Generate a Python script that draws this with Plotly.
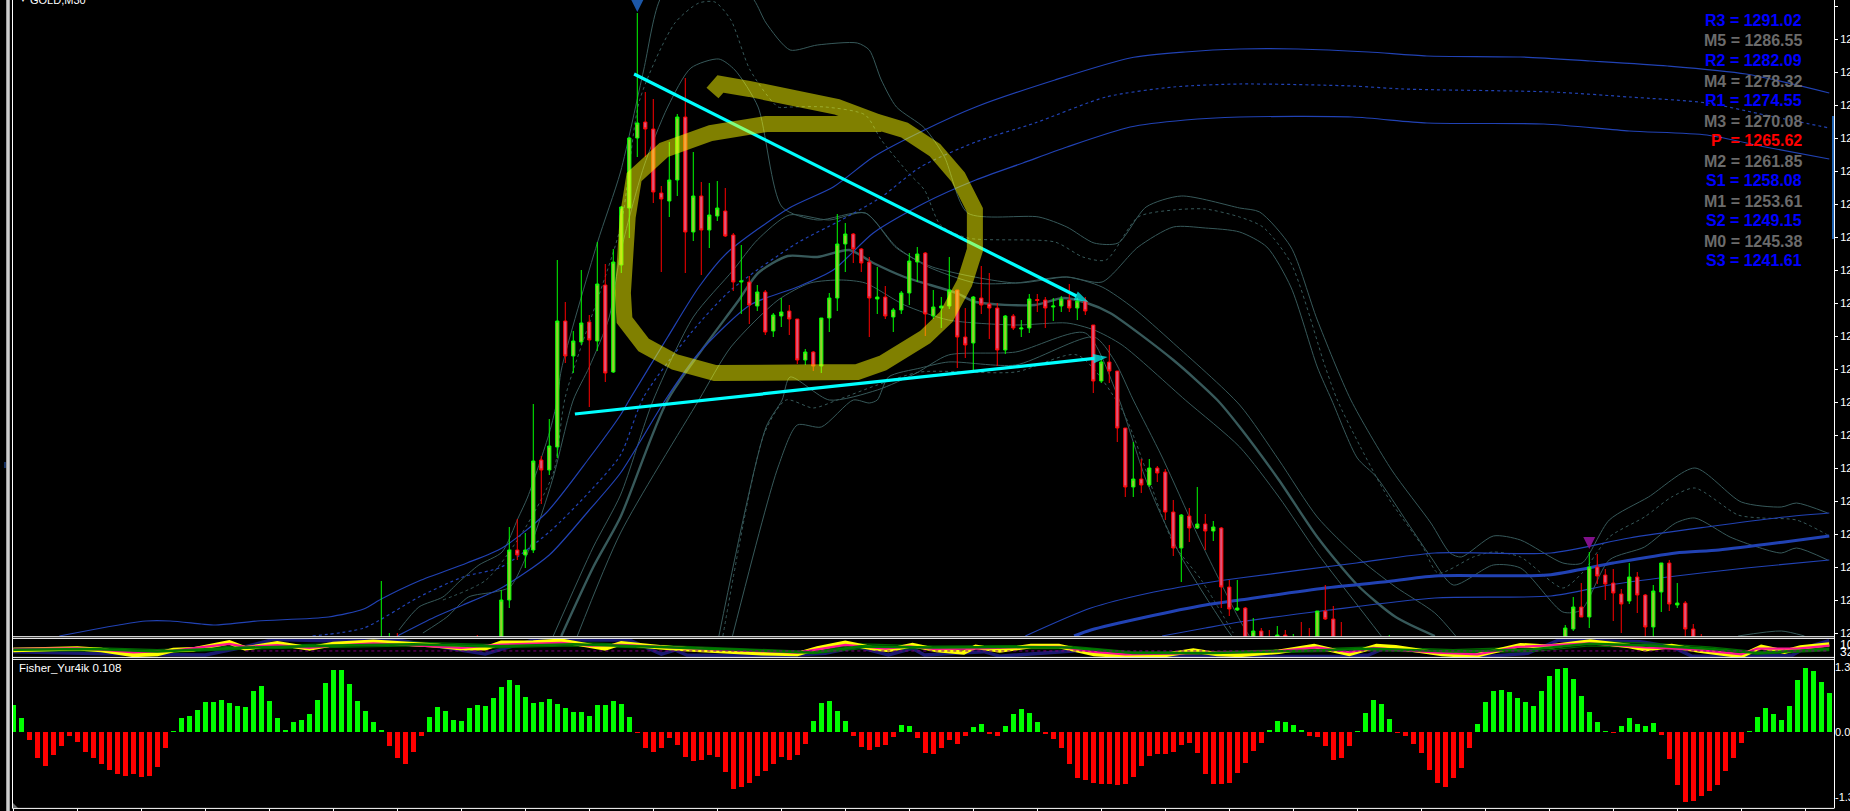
import plotly.graph_objects as go

# ---------- candles (bar number, open, high, low, close), main price panel ----------
bar = [46,47,48,58,61,62,63,64,65,66,67,68,69,70,71,72,73,74,75,76,77,78,79,80,81,82,83,84,85,86,87,88,89,90,91,92,93,94,95,96,97,98,99,100,
       101,102,103,104,105,106,107,108,109,110,111,112,113,114,115,116,117,118,119,120,121,122,123,124,125,126,127,128,129,130,131,132,133,134,135,
       136,137,138,139,140,141,142,143,144,145,146,147,148,149,150,151,152,153,154,155,156,157,158,159,160,161,162,163,164,165,166,172,
       194,195,196,197,198,199,200,201,202,203,204,205,206,207,208,209,210,211]
open_ = [1235,1235.5,1236,1236,1235,1240,1245,1244.5,1245,1254,1253,1255.3,1267.9,1264.4,1265.8,1267.8,1265.9,1271.5,1262.8,1273.5,1279.2,1286.2,1287.8,1287.1,1280.7,1279.9,1282,1288.3,1276.8,1280.4,1277,1278.4,1278.9,1276.5,1271.8,1271.8,1269.4,1270.8,1266.9,1268.4,1268.9,1268.1,1264,1264.8,
         1263.4,1268.2,1270.2,1275.6,1276.6,1275.1,1273.8,1270.1,1270.3,1268.3,1269,1270.7,1273.8,1274.7,1268.4,1269.2,1269.4,1271,1266.3,1265.7,1270.2,1269.6,1269.2,1265,1268.4,1267.1,1267.2,1270.05,1270,1269.3,1269.4,1270,1269.2,1269.9,1267.5,
         1261.9,1263.8,1262.9,1257.2,1251.3,1252.1,1251.5,1253.2,1252.8,1248.8,1245.2,1248.4,1247.2,1247.6,1246.9,1247.2,1241.3,1239,1239.2,1234,1236.9,1235,1236,1236.5,1235,1235.5,1235,1235,1238.9,1238.1,1235,1235,
         1235,1237.1,1239.3,1238.3,1243.3,1242.5,1241.7,1240.6,1239.9,1242.3,1240.5,1237.3,1240.8,1243.7,1239.5,1239.7,1237.1,1235]
high = [1241.9,1236.7,1236.7,1236.5,1241,1247.3,1248.1,1246.7,1259.6,1254.4,1258.1,1274,1269.8,1266.9,1273,1268.5,1275.8,1273.6,1275.1,1279.4,1286.3,1298.7,1290.8,1290.1,1281.4,1285.8,1288.6,1292.2,1284.8,1281.8,1281.7,1281.9,1281.2,1276.7,1275.5,1272.4,1271.5,1271,1268.7,1270.2,1269.5,1268.1,1265.1,1264.9,
        1268.2,1270.7,1278.6,1277.7,1276.7,1275.2,1274.3,1273.3,1271.4,1269.2,1270.9,1274.7,1275.3,1274.8,1271,1270.3,1274.3,1271,1269.2,1270.4,1273.4,1272.7,1269.7,1268.5,1268.6,1268,1270.6,1270.6,1270.3,1270.2,1270.4,1271.6,1270.2,1270.3,1267.5,
        1264.1,1265.5,1262.9,1257.2,1255.8,1254.1,1254.1,1253.4,1253.1,1250,1248.6,1249.2,1251.3,1248.6,1247.9,1247.3,1242,1242,1239.3,1238.2,1237.2,1237,1237.4,1237,1236.6,1237.8,1237.2,1238.9,1241.5,1239.4,1237.8,1236.5,
        1237.5,1240.3,1241.7,1244.8,1244.6,1243.1,1243.1,1241.1,1243.7,1242.8,1240.6,1241.5,1243.7,1244,1241.7,1239.9,1237.6,1236.6]
low = [1234.5,1235,1235,1235,1234.5,1239.2,1244,1243.2,1244.7,1249.6,1252.5,1254.2,1263.7,1262.7,1265.5,1259.3,1264.9,1261.8,1262.7,1272.7,1276.2,1284.3,1284.3,1279.7,1272.8,1278.3,1280.4,1272.7,1275.9,1272.5,1275.2,1277.9,1276.3,1270.9,1268.6,1267.6,1268.9,1266.5,1266.3,1267.3,1266.5,1263.6,1263.5,1262.9,
       1262.7,1266.8,1268.9,1272.8,1273.7,1272.8,1266.3,1268.6,1268.1,1266.8,1268.6,1269.5,1271.8,1266.4,1268.1,1267.2,1269.1,1263.2,1264.2,1262.8,1268.6,1266.1,1263.4,1264.6,1267,1266.3,1266.7,1268.8,1267.2,1267.9,1268.8,1268.8,1268,1268.5,1260.7,
       1261.7,1261.7,1255.8,1250.3,1250.3,1250.7,1251.3,1251.8,1248,1244.4,1241.8,1245.8,1247.1,1245,1245.9,1239.2,1238.4,1238.9,1234.5,1233.8,1233.8,1233,1233,1235,1234,1233,1233,1234,1238,1234,1233,1233,
       1234,1236.9,1238.3,1237.2,1241.6,1240,1237.9,1236.7,1239.6,1238.7,1236,1236,1238.8,1238.9,1239.2,1236,1234,1233]
close = [1236,1236,1235.5,1235.5,1240,1245,1244.5,1245,1253.9,1253,1255.4,1267.9,1264.4,1265.9,1267.7,1266,1271.6,1262.7,1273.8,1279.3,1286.2,1287.7,1287.1,1280.8,1280.1,1282,1288.3,1276.8,1280.4,1277,1278.5,1279.2,1276.4,1271.8,1271.9,1269.5,1270.8,1266.8,1268.5,1268.8,1268.1,1264,1264.8,1263.4,
         1268.2,1270.2,1275.6,1276.6,1275.1,1273.7,1270.2,1270.3,1268.4,1269,1270.7,1273.9,1274.6,1268.6,1269.3,1269.4,1271,1266.3,1265.5,1270.3,1269.5,1269.2,1265,1268.4,1267.2,1267.2,1270.1,1269.95,1269.2,1269.4,1270.1,1269.2,1269.9,1268.9,1261.9,
         1263.8,1262.9,1257.2,1251.3,1252.1,1251.5,1253.2,1252.7,1248.8,1245.2,1248.5,1247.2,1247.6,1246.9,1247.3,1241.3,1239.1,1239.2,1235,1236.9,1234,1234,1236.5,1236,1235.5,1234,1234,1238.9,1238.1,1235,1234,1235.5,
         1237.2,1239.3,1238.3,1243.3,1242.4,1241.6,1240.7,1239.6,1242.3,1240.5,1237.3,1240.9,1243.7,1239.6,1239.7,1237.1,1235,1234]

# ---------- blue envelope, first ----------
blue_up_x = [5.75,9.7,13.2,16.6,19.6,23.5,25.3,30.5,39.4,43.8,46,50.7,56.7,61.1,66.6,72,75.9,77,81.8,85.7,89.2,97,102.5,107.5,113.9,120.3,130.2,139.6,146.5,153.3,160.6,169.4,176.7,188.4,197.1,206.8,216.6,227]
blue_up_y = [1236.4,1237,1237.5,1237.9,1237.9,1237.6,1237.5,1237.9,1238.3,1239.1,1240.1,1241.9,1243.7,1245.2,1248.7,1254.2,1258.5,1260,1266.3,1271.3,1274.7,1279.2,1281.3,1284.3,1287,1289.3,1292,1294.2,1294.8,1295.1,1295.1,1294.8,1294.4,1294.3,1293.9,1293.4,1292.6,1290.7]
blue_mid_x = [37.4,43.8,50.7,56.2,61,67,72,75.9,78.8,84.7,89.7,98,103.5,108.5,113.4,120.3,127.7,136.6,145,153.3,167.4,173.8,192.3,202,211.7,219,227]
blue_mid_y = [1236.4,1237.2,1240.3,1242.3,1243.3,1246.8,1250.8,1254.5,1260.3,1266.7,1271,1275.7,1278,1280.3,1283.3,1285.8,1287.7,1290.3,1291.3,1291.6,1291.4,1291.1,1290.8,1290.3,1289.7,1288.5,1287.2]
blue_low_x = [48,52.7,56.2,61,67,72,75.9,81.5,85.7,92.1,98,102.5,107.5,113.9,120.3,126.2,131.7,139.6,146.5,153.3,167.4,176.7,191.3,202,211.7,219,227]
blue_low_y = [1236.4,1238.3,1239.5,1241.2,1244.5,1249,1252.7,1260,1264.7,1269.5,1271.3,1273,1276.7,1279.7,1282,1283.7,1285.3,1287.3,1288,1288.3,1288.3,1287.7,1287.6,1286.9,1286.5,1285.3,1284.1]

# ---------- blue envelope, second ----------
blue2_up_x = [126.5,134.7,142,149,153.3,167.9,177.7,192.2,202,211.7,221.4,227]
blue2_up_y = [1236.4,1239.2,1240.7,1241.7,1242.2,1243.7,1244.7,1244.7,1246.2,1247.3,1248.3,1248.7]
blue2_mid_x = [132.6,134.7,141.6,149,153.3,164,171.3,177.7,191.8,200,207.8,213.2,221.4,227]
blue2_mid_y = [1236.4,1237,1238.3,1239.5,1240,1241.2,1241.8,1242.4,1242.5,1243.7,1244.7,1245,1245.8,1246.4]
blue2_low_x = [143.6,149,153.3,164.5,177.7,192.2,199.5,206.8,216.6,227]
blue2_low_y = [1236.4,1237.2,1237.8,1239,1240.2,1240.4,1241.5,1242.3,1243.2,1244]

# ---------- grey-green envelopes ----------
hump_up_x = [48.2,50.7,53.7,55.7,58.2,61.1,63.1,64.3,67,68,68.5,73,75.9,78.8,80.8,86,92.6,94.1,97.1,100.5,105.5,107,108.5,110.4,113.9,116.4,119.3,128.2,131.7,135.1,138.1,141.6,146,153.3,155.8,159.7,163,167.2,172.3,177.2,179.6,181,185,188.4,193.7,196.1,199.5,204.4,210.2,216,221,222.9,226.8]
hump_up_y = [1237,1239.3,1240.3,1241.8,1243.5,1244.8,1248.2,1250.3,1256.7,1260,1263,1275.7,1282.8,1293,1300,1306,1300,1297.7,1295,1295.5,1295.7,1295,1292,1289.3,1287.2,1284.3,1278.7,1278.3,1277.3,1275.7,1275.7,1279.3,1280.4,1279.2,1278.8,1275.3,1268,1260,1253,1247.7,1244.7,1244.3,1246.4,1246,1243.7,1243.7,1248,1250.3,1253.2,1249.8,1249.3,1249.7,1248.7]
hump_mid_x = [53.7,59.1,63.6,67.5,69,75.9,78.3,82.7,85.7,87.7,89.7,92.1,95.6,97.1,101.5,106.5,108.5,111.9,113.9,115.9,119.3,130.2,133.7,136.6,140.6,145,149,153.3,156.2,159.7,164,165.5,168.4,171.8,176.2,178.1,182.5,185,188.4,193.7,196.1,199.5,203.9,207.3,210.2,215.6,218.5,222.9,226.8]
hump_mid_y = [1240,1242,1246.7,1252.7,1260.3,1277.3,1290,1297.7,1299.7,1299.8,1298,1293,1289.3,1289.3,1289.3,1288.5,1286,1282.7,1281,1277.5,1276.2,1275.8,1274.3,1274,1278.3,1279,1279.1,1278.3,1277.3,1273.7,1263.3,1260,1255.3,1250.3,1245.3,1242.7,1244.3,1244.8,1244.3,1241.2,1242.7,1246.3,1248.3,1250.3,1251.2,1248.5,1248.2,1248,1246.5]
hump_low_x = [51.2,54.2,56.9,60.1,62.1,64.6,67.5,70,72,74.5,75.9,78.8,81.8,84.7,88.2,90.2,93.1,96.1,100.5,106.5,110.4,114.9,125.3,131.7,136.1,140.6,145,149,153.3,156.7,159.7,163,164.8,168,170.4,174.3,177.2,180,185,188.4,193.7,196,199.5,203.9,207.8,210.2,214.6,218,221,222.9,226.8]
hump_low_y = [1236.7,1238.3,1240.3,1240.8,1241.3,1245.3,1252.3,1260,1263.3,1268.3,1274.7,1283.3,1289.3,1293.2,1294.1,1293,1289.3,1279.3,1278,1278.7,1275.2,1273.3,1271.7,1272.3,1271.8,1275.3,1277.3,1277.2,1276.8,1275.3,1271.3,1263.3,1260,1254.2,1252.3,1247.7,1244.3,1241.5,1243.5,1243.2,1238.8,1239,1244,1245.3,1247.7,1248.2,1246.3,1245.3,1244.7,1245.2,1244]
teal_mid_x = [68.5,72.5,75.9,81.8,90.7,93.1,96.8,100.5,104.5,107.5,111.4,117.9,120.3,127.7,131.2,134.2,137.1,145,150.5,153.3,158.2,163,168,172.8,177.7]
teal_mid_y = [1236.4,1243.3,1248.3,1260,1270,1272.7,1274.4,1274.3,1275,1273.7,1272.3,1270.7,1269.8,1269.5,1270.2,1269.7,1268.7,1264,1260,1257.3,1252,1246.3,1241.5,1238.3,1236.4]
teal_up_x = [67.5,72.5,75.9,80,85,90,93,97,102,106.5,110.4,114.4,120.3,125.3,131.7,136.1,140,145,153.3,158.2,163,168,172.8,177.7,180.3]
teal_up_y = [1236.4,1245.3,1250.5,1260,1268.3,1273,1276,1278.5,1278,1278.7,1275.3,1273.3,1271.7,1271.7,1272.3,1271.3,1269.2,1265.7,1259.5,1254,1248.3,1244.3,1241.3,1238.7,1236.4]
teal_low_x = [70.5,75.9,85.7,89.7,95.6,99.6,103.5,106.5,111.4,116.9,125.3,131.7,135.1,138.6,146.5,153.3,158.2,163,168,171]
teal_low_y = [1236.4,1246.7,1260,1265.3,1270,1271.7,1272,1271.7,1269.5,1268,1267.5,1267.7,1267,1265.5,1260,1255.3,1250.3,1244.7,1239.5,1236.4]
hill_a_x = [89.9,95.6,98,101,105,107,108,109.4,113.4,116.9,125.3,135.1,137.6,140,143.6,148.5,153.3,154.5]
hill_a_y = [1236.4,1253.3,1257.5,1257.3,1260,1259.7,1260,1262.3,1263.2,1263.8,1263.5,1266.3,1264,1260,1254.3,1245.7,1238,1236.4]
hill_b_x = [88.7,93.9,96.6,100,103,108,113.4,125.3,133,138.6,145,148.5,152.5]
hill_b_y = [1236.4,1256.7,1260,1259.2,1260,1261.5,1262.8,1262.8,1264.5,1259,1245.7,1242,1236.7]
hill_c_x = [88.2,94.1,96.1,97.1,102,108,112.9,116.9,125.3,134,138,141.6,146,151.5,152.3]
hill_c_y = [1236.4,1257.3,1260,1262.3,1260,1261,1262.7,1264.5,1264.8,1266.7,1260.5,1252,1244.3,1237.3,1236.4]
tail_x = [215.6,221,223.9]
tail_y = [1236.4,1236.9,1236.4]

# ---------- hand-drawn marks ----------
trend_down_x = [77.6,134.4]
trend_down_y = [1292.6,1269.8]
trend_up_x = [70.2,136.8]
trend_up_y = [1258.6,1264.3]
brush_x = [87.4,88.4,92.1,97.1,103,108,111.4,115.2,118.1,120.2,120.2,118.9,116.6,114,108.7,105.5,87.7,82.7,78.8,76.4,76.2,76.8,77.6,81.3,87.2,94.1,102.5,108.5]
brush_y = [1290.7,1291.6,1291.1,1290.4,1289.3,1287.8,1287,1285,1282.3,1279,1275,1271.7,1268.3,1266.3,1263.7,1262.8,1262.7,1263.8,1265.5,1268,1270.7,1278.3,1282.3,1285,1286.7,1287.6,1287.8,1287.6]
signal_bar = [78,197]
signal_price = [1298.8,1245.1]

# ---------- pivot labels ----------
pivot_names = ["R3","M5","R2","M4","R1","M3","P\u00a0","M2","S1","M1","S2","M0","S3"]
pivot_values = ["1291.02","1286.55","1282.09","1278.32","1274.55","1270.08","1265.62","1261.85","1258.08","1253.61","1249.15","1245.38","1241.61"]

# ---------- oscillator strip ----------
yellow_x = [0,4,8,11,15,18,20,22.5,24.5,27,29,33,37,40,45,50,53,56,59,61,65,68.5,72,74,76,78.8,80.8,84.2,89.7,93.6,98,100.5,104,107.5,109.4,112.4,115.4,118.8,120.3,123.3,127.2,130.7,135.1,139.1,144,147.5,150.5,153.3,158.2,162.6,167,170.4,172.8,178.6,182.5,185,188.4,191.8,197.1,202,204,207.3,210.7,216,218.5,221.4,223.4,227]
yellow_y = [38,42,47,38,11,16,38,42,60,80,47,75,47,71,84,69,62,47,47,78,80,89,65,47,75,60,53,42,29,20,16,47,78,47,38,65,38,24,56,35,60,60,16,5,11,35,16,11,29,60,16,60,53,16,5,29,65,56,85,60,42,60,35,5,56,29,53,69]
magenta_x = [0,8,11,15,20,27,29,33,37,40,45,50,56,61,68.5,72,76,84,90,98,104,109,112,115,120,127,131,135,139,144,150,158,163,167,170,178,183,188,197,204,210,216,218,223,227]
magenta_y = [45,47,40,25,35,72,55,65,50,62,75,62,50,68,78,62,66,48,36,24,66,46,58,44,46,55,55,28,14,16,22,32,52,26,50,24,14,55,74,52,42,14,46,46,62]
green_x = [0,10,18,28,40,50,60,70,80,92,100,106,115,125,132,140,150,160,170,180,190,197,205,212,218,227]
green_a_y = [50,52,40,60,72,82,68,80,65,45,30,72,60,62,60,28,30,40,55,40,55,85,75,55,30,50]
green_b_y = [40,44,30,50,62,70,58,70,56,38,24,58,52,55,52,22,22,33,45,30,42,72,62,45,22,42]
green_c_y = [30,35,22,42,52,60,50,60,48,30,18,45,45,48,45,16,15,26,35,22,30,60,50,35,15,35]
navy_x = [0,8,13,24,29,32.5,39.4,48,59,65,70,77,81,82.7,84.2,95.6,101.5,105.5,109.4,112.4,113.9,121.3,123.3,131.2,134.2,140,153.3,167,169.4,171.3,184.5,189.3,193.2,203.4,207.3,209.8,216.6,222.4,224.3,227]
navy_y = [29,20,16,11,56,96,89,93,16,93,93,93,16,38,11,5,20,56,11,47,11,29,5,29,38,5,2,5,11,47,5,20,93,84,56,5,5,11,56,89]
level_line = [33,33]
level_bars = [29,227]

# ---------- Fisher histogram ----------
fisher = [.55,.29,-.15,-.52,-.68,-.46,-.28,-.08,-.19,-.40,-.52,-.64,-.76,-.84,-.88,-.84,-.90,-.88,-.70,-.32,
          .02,.29,.33,.45,.61,.61,.65,.59,.53,.51,.83,.93,.63,.29,.05,.21,.25,.37,.65,.99,1.25,1.25,.97,.63,.43,.21,.03,
          -.27,-.51,-.63,-.39,-.07,.31,.51,.43,.25,.23,.49,.55,.53,.69,.91,1.05,.95,.71,.59,.61,.67,.57,.49,.41,.41,.33,.55,.55,.63,
          .57,.31,-.02,-.32,-.40,-.32,-.12,-.26,-.50,-.58,-.56,-.46,-.50,-.80,-1.14,-1.10,-1.02,-.88,-.78,-.64,-.50,-.56,-.46,-.24,
          .23,.59,.63,.43,.23,-.08,-.30,-.36,-.30,-.26,-.10,.15,.13,-.12,-.42,-.44,-.32,-.16,-.24,-.08,.11,.17,-.04,-.08,.13,.37,.47,.39,.21,
          -.04,-.14,-.32,-.64,-.92,-.96,-1.02,-1.04,-1.04,-1.06,-1.04,-.90,-.68,-.48,-.44,-.44,-.40,-.26,-.22,-.42,-.84,-1.04,-1.04,-1.02,-.82,
          -.62,-.38,-.22,.05,.23,.21,.15,.05,-.08,-.10,-.28,-.56,-.52,-.28,.02,.39,.65,.57,.27,-.01,-.08,-.24,-.42,-.76,-1.02,-1.10,-.92,-.72,-.32,
          .17,.61,.83,.85,.81,.69,.61,.53,.83,1.13,1.27,1.29,1.07,.73,.41,.21,.01,-.01,.13,.29,.17,.13,.19,-.06,-.54,-1.06,-1.40,-1.38,-1.28,-1.18,-1.06,-.78,-.52,-.22,
          .01,.31,.49,.37,.25,.53,1.05,1.29,1.23,1.01,.79]
fisher_ticks = [1.3,0.0,-1.3]
fisher_tick_text = ["1.3","0.0","-1.3"]
price_ticks = [1299.4,1296.1,1292.8,1289.5,1286.2,1282.9,1279.6,1276.3,1273.0,1269.7,1266.4,1263.1,1259.8,1256.5,1253.2,1249.9,1246.6,1243.3,1240.0,1236.7]
time_ticks = list(range(0,228,8))

# ---------- frame geometry, in page pixels ----------
W, H = 1850, 811
def px(x): return x / W
def py(r): return 1 - r / H
x_dom = [px(12.5), px(1834)]
x_rng = [-0.1, 227.59]
FONT = "Liberation Sans"
BLUE, TEAL = "#2142B4", "#37595A"

fig = go.Figure()

def line(x, y, color, width=1, dash=None):
    fig.add_trace(go.Scatter(x=x, y=y, mode="lines", xaxis="x", yaxis="y", hoverinfo="skip",
                             line=dict(color=color, width=width, dash=dash, shape="spline", smoothing=0.7)))

for xs, ys, w, d in [(hump_up_x, hump_up_y, 1, None), (hump_mid_x, hump_mid_y, 1, "3px,3px"), (hump_low_x, hump_low_y, 1, None),
                     (teal_up_x, teal_up_y, 1, None), (teal_mid_x, teal_mid_y, 2.4, None), (teal_low_x, teal_low_y, 1, None),
                     (hill_a_x, hill_a_y, 1, None), (hill_b_x, hill_b_y, 1, "3px,3px"), (hill_c_x, hill_c_y, 1, None), (tail_x, tail_y, 1, None)]:
    line(xs, ys, TEAL, w, d)
for xs, ys, w, d in [(blue_up_x, blue_up_y, 1.2, None), (blue_mid_x, blue_mid_y, 1.2, "3px,3px"), (blue_low_x, blue_low_y, 1.2, None),
                     (blue2_up_x, blue2_up_y, 1.2, None), (blue2_mid_x, blue2_mid_y, 3, None), (blue2_low_x, blue2_low_y, 1.2, None)]:
    line(xs, ys, BLUE, w, d)

fig.add_trace(go.Candlestick(x=bar, open=open_, high=high, low=low, close=close, xaxis="x4", yaxis="y4",
                             whiskerwidth=0, hoverinfo="skip",
                             increasing=dict(line=dict(color="#00FF00", width=1), fillcolor="#9ACD32"),
                             decreasing=dict(line=dict(color="#FF0000", width=1), fillcolor="#E0557A")))

fig.add_trace(go.Scatter(x=signal_bar, y=signal_price, mode="markers", xaxis="x5", yaxis="y5", hoverinfo="skip",
                         marker=dict(symbol="arrow-down", size=12, color=["#1C57A8", "#80108A"], line=dict(width=0))))
for xs, ys in [(trend_down_x, trend_down_y), (trend_up_x, trend_up_y)]:
    fig.add_trace(go.Scatter(x=xs, y=ys, mode="lines+markers", xaxis="x5", yaxis="y5", hoverinfo="skip",
                             line=dict(color="#00FFFF", width=3.2),
                             marker=dict(symbol="arrow", angleref="previous", size=[0, 15], color="#00FFFF", line=dict(width=0))))
fig.add_trace(go.Scatter(x=brush_x, y=brush_y, mode="lines", xaxis="x5", yaxis="y5", hoverinfo="skip",
                         line=dict(color="rgba(255,255,0,0.5)", width=16)))

# oscillator strip
for xs, ys, col, w in [(navy_x, navy_y, "#191970", 3.4), (green_x, green_a_y, "#006400", 1.2), (green_x, green_c_y, "#006400", 1.2),
                       (yellow_x, yellow_y, "#FFFF00", 4.4), (magenta_x, magenta_y, "#FF1493", 2.2), (green_x, green_b_y, "#007A00", 2.6)]:
    fig.add_trace(go.Scatter(x=xs, y=ys, mode="lines", xaxis="x2", yaxis="y2", hoverinfo="skip",
                             line=dict(color=col, width=w)))
fig.add_trace(go.Scatter(x=level_bars, y=level_line, mode="lines", xaxis="x2", yaxis="y2", hoverinfo="skip",
                         line=dict(color="#800080", width=1, dash="3px,3px")))

fig.add_trace(go.Bar(x=list(range(len(fisher))), y=fisher, width=0.625, xaxis="x3", yaxis="y3", hoverinfo="skip",
                     marker=dict(color=["#00FF00" if v > 0 else "#FF0000" for v in fisher], line=dict(width=0))))

tickfont = dict(family=FONT, size=11, color="white")
bare = dict(showgrid=False, zeroline=False, showline=False, ticks="", showticklabels=False, fixedrange=True, automargin=False)
main_dom = [py(636.5), py(0)]
main_rng = [1236.35, 1300]
fig.update_layout(
    template="none",
    width=W, height=H, margin=dict(l=0, r=0, t=0, b=0, pad=0), autosize=False, showlegend=False,
    paper_bgcolor="black", plot_bgcolor="black", boxgap=0.42, bargap=0,
    xaxis=dict(bare, range=x_rng, domain=x_dom, anchor="y"),
    xaxis4=dict(bare, range=x_rng, domain=x_dom, anchor="y4", overlaying="x", rangeslider=dict(visible=False)),
    xaxis5=dict(bare, range=x_rng, domain=x_dom, anchor="y5", overlaying="x"),
    xaxis2=dict(bare, range=x_rng, domain=x_dom, anchor="y2"),
    xaxis3=dict(range=x_rng, domain=x_dom, anchor="y3", showgrid=False, zeroline=False, showline=False, automargin=False,
                tickvals=time_ticks, ticks="outside", ticklen=3, tickcolor="white", tickwidth=1, showticklabels=False),
    yaxis=dict(domain=main_dom, range=main_rng, side="right", anchor="x", showgrid=False, zeroline=False, showline=False, automargin=False,
               tickvals=price_ticks, ticktext=[f"{v:.2f}" for v in price_ticks], ticks="outside", ticklen=3,
               tickcolor="white", tickwidth=1, tickfont=tickfont),
    yaxis4=dict(bare, domain=main_dom, range=main_rng, anchor="x4", overlaying="y"),
    yaxis5=dict(bare, domain=main_dom, range=main_rng, anchor="x5", overlaying="y"),
    yaxis2=dict(bare, domain=[py(657), py(638.7)], range=[0, 100], anchor="x2"),
    yaxis3=dict(domain=[py(808), py(659.7)], range=[-1.526, 1.44], side="right", anchor="x3", showgrid=False, zeroline=False, showline=False, automargin=False,
                tickvals=fisher_ticks, ticktext=fisher_tick_text, ticks="",
                tickfont=dict(family=FONT, size=11, color="white")),
)

shapes = []
def seg(x0, r0, x1, r1, color="white", width=1):
    shapes.append(dict(type="line", xref="paper", yref="paper", x0=px(x0), x1=px(x1), y0=py(r0), y1=py(r1),
                       line=dict(color=color, width=width), layer="above"))
for r in [636.7, 638.4, 657.4, 659.4, 808.4]:
    seg(12.5, r, 1834, r)
seg(12.5, 0, 12.5, 808.4)
seg(1834.5, 0, 1834.5, 808.4)
seg(1833, 116, 1833, 239, "#2A8CFF", 1.4)
seg(8, 0, 8, H, "#9A9A9A", 4)
seg(8, 0, 8, H, "white", 1)
seg(5, 462, 5, 468, "#2A5FC0", 1)
shapes.append(dict(type="path", xref="paper", yref="paper", layer="above", line=dict(width=0), fillcolor="#6E7070",
                   path=f"M{px(13)},{py(803)} L{px(18)},{py(808)} L{px(13)},{py(808)} Z"))
fig.update_layout(shapes=shapes)

ann = []
def text(x, r, s, size, color, anchor="left", bold=False):
    ann.append(dict(xref="paper", yref="paper", x=px(x), y=py(r), text=f"<b>{s}</b>" if bold else s, showarrow=False,
                    xanchor=anchor, yanchor="middle", align=anchor, font=dict(family=FONT, size=size, color=color)))
for i, (n, v) in enumerate(zip(pivot_names, pivot_values)):
    col = "#FF0000" if n.startswith("P") else ("#6B6B6B" if n.startswith("M") else "#0000FF")
    text(1804, 21 + 20 * i, f"{n} = {v}", 16, col, "right", True)
text(17, 668, "Fisher_Yur4ik 0.108", 11.5, "white")
text(28, 0, "GOLD,M30", 11, "white")
text(18, 0, "\u25BC", 6, "white")
text(1838, 645, "100", 12, "white")
text(1838, 652, "32", 12, "white")
fig.update_layout(annotations=ann)

fig.write_html("out.html", config=dict(displayModeBar=False),
               post_script="document.body.style.margin='0';document.body.style.overflow='hidden';document.body.style.background='black';")
